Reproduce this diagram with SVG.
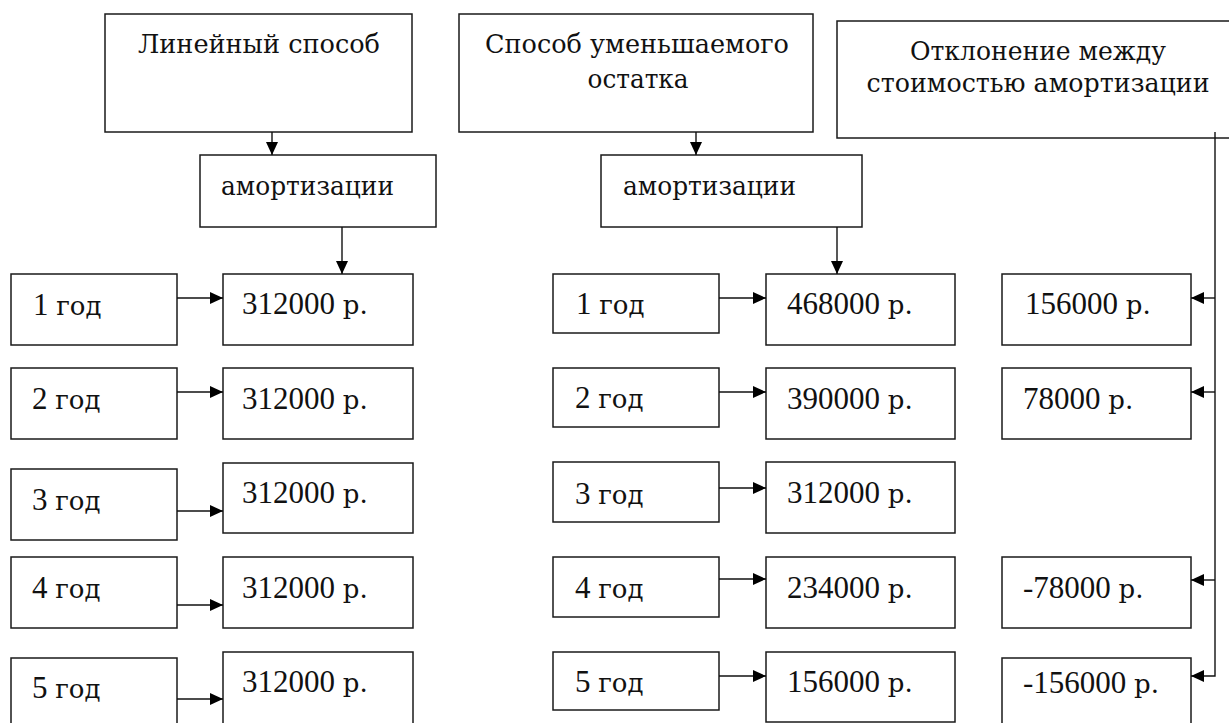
<svg xmlns="http://www.w3.org/2000/svg" width="1229" height="723" viewBox="0 0 1229 723">
<style>
.b{fill:#fff;stroke:#1a1a1a;stroke-width:1.5}
.t{font-family:"Liberation Serif","Times New Roman",serif;font-size:31px;fill:#111}
.h{font-family:"DejaVu Serif",serif;font-size:26px}
.cy{font-family:"DejaVu Serif",serif;font-size:26px}
.m{text-anchor:middle}
.c{fill:none;stroke:#111;stroke-width:1.4}
</style>
<defs>
<marker id="ah" markerUnits="userSpaceOnUse" markerWidth="13" markerHeight="12" refX="13" refY="6" orient="auto">
<path d="M0,0 L13,6 L0,12 z" fill="#000"/>
</marker>
</defs>
<rect width="1229" height="723" fill="#fff"/>
<g id="n-linear"><rect class="b" x="105" y="14" width="307" height="118"/><text class="t h m" x="259" y="53" textLength="242" lengthAdjust="spacingAndGlyphs">Линейный способ</text></g>
<g id="n-declining"><rect class="b" x="459" y="14" width="354" height="118"/><text class="t h m" x="637" y="53" textLength="304" lengthAdjust="spacingAndGlyphs">Способ уменьшаемого</text><text class="t h m" x="638" y="88" textLength="101" lengthAdjust="spacingAndGlyphs">остатка</text></g>
<g id="n-deviation"><rect class="b" x="837" y="21" width="403" height="117"/><text class="t h m" x="1038" y="60" textLength="256" lengthAdjust="spacingAndGlyphs">Отклонение между</text><text class="t h m" x="1038" y="92" textLength="343" lengthAdjust="spacingAndGlyphs">стоимостью амортизации</text></g>
<g id="n-amort1"><rect class="b" x="200" y="155" width="236" height="72"/><text class="t h" x="221" y="195" textLength="173" lengthAdjust="spacingAndGlyphs">амортизации</text></g>
<g id="n-amort2"><rect class="b" x="601" y="155" width="261" height="72"/><text class="t h" x="623" y="195" textLength="173" lengthAdjust="spacingAndGlyphs">амортизации</text></g>
<g id="n-l-y1"><rect class="b" x="11" y="274" width="166" height="71"/><text class="t" x="33" y="315">1 <tspan class="cy">год</tspan></text></g>
<g id="n-l-y2"><rect class="b" x="11" y="368" width="166" height="71"/><text class="t" x="32" y="409">2 <tspan class="cy">год</tspan></text></g>
<g id="n-l-y3"><rect class="b" x="11" y="469" width="166" height="71"/><text class="t" x="32" y="510">3 <tspan class="cy">год</tspan></text></g>
<g id="n-l-y4"><rect class="b" x="11" y="557" width="166" height="71"/><text class="t" x="32" y="598">4 <tspan class="cy">год</tspan></text></g>
<g id="n-l-y5"><rect class="b" x="11" y="658" width="166" height="70"/><text class="t" x="32" y="698">5 <tspan class="cy">год</tspan></text></g>
<g id="n-l-v1"><rect class="b" x="223" y="274" width="190" height="71"/><text class="t" x="242" y="314">312000 <tspan class="cy">р.</tspan></text></g>
<g id="n-l-v2"><rect class="b" x="223" y="368" width="190" height="71"/><text class="t" x="242" y="409">312000 <tspan class="cy">р.</tspan></text></g>
<g id="n-l-v3"><rect class="b" x="223" y="463" width="190" height="70"/><text class="t" x="242" y="503">312000 <tspan class="cy">р.</tspan></text></g>
<g id="n-l-v4"><rect class="b" x="223" y="557" width="190" height="71"/><text class="t" x="242" y="598">312000 <tspan class="cy">р.</tspan></text></g>
<g id="n-l-v5"><rect class="b" x="223" y="652" width="190" height="76"/><text class="t" x="242" y="692">312000 <tspan class="cy">р.</tspan></text></g>
<g id="n-m-y1"><rect class="b" x="553" y="274" width="166" height="59"/><text class="t" x="576" y="314">1 <tspan class="cy">год</tspan></text></g>
<g id="n-m-y2"><rect class="b" x="553" y="368" width="166" height="59"/><text class="t" x="575" y="408">2 <tspan class="cy">год</tspan></text></g>
<g id="n-m-y3"><rect class="b" x="553" y="462" width="166" height="60"/><text class="t" x="575" y="504">3 <tspan class="cy">год</tspan></text></g>
<g id="n-m-y4"><rect class="b" x="553" y="557" width="166" height="60"/><text class="t" x="575" y="598">4 <tspan class="cy">год</tspan></text></g>
<g id="n-m-y5"><rect class="b" x="553" y="652" width="166" height="58"/><text class="t" x="575" y="692">5 <tspan class="cy">год</tspan></text></g>
<g id="n-m-v1"><rect class="b" x="766" y="274" width="189" height="71"/><text class="t" x="787" y="314">468000 <tspan class="cy">р.</tspan></text></g>
<g id="n-m-v2"><rect class="b" x="766" y="368" width="189" height="71"/><text class="t" x="787" y="409">390000 <tspan class="cy">р.</tspan></text></g>
<g id="n-m-v3"><rect class="b" x="766" y="462" width="189" height="71"/><text class="t" x="787" y="503">312000 <tspan class="cy">р.</tspan></text></g>
<g id="n-m-v4"><rect class="b" x="766" y="557" width="189" height="71"/><text class="t" x="787" y="598">234000 <tspan class="cy">р.</tspan></text></g>
<g id="n-m-v5"><rect class="b" x="766" y="652" width="189" height="70"/><text class="t" x="787" y="692">156000 <tspan class="cy">р.</tspan></text></g>
<g id="n-r-v1"><rect class="b" x="1002" y="274" width="189" height="71"/><text class="t" x="1025" y="314">156000 <tspan class="cy">р.</tspan></text></g>
<g id="n-r-v2"><rect class="b" x="1002" y="368" width="189" height="71"/><text class="t" x="1023" y="409">78000 <tspan class="cy">р.</tspan></text></g>
<g id="n-r-v4"><rect class="b" x="1002" y="557" width="189" height="71"/><text class="t" x="1023" y="598">-78000 <tspan class="cy">р.</tspan></text></g>
<g id="n-r-v5"><rect class="b" x="1002" y="658" width="189" height="70"/><text class="t" x="1023" y="693">-156000 <tspan class="cy">р.</tspan></text></g>
<g id="connectors">
<path class="c" d="M272,132 V155" marker-end="url(#ah)"/>
<path class="c" d="M342,227 V274" marker-end="url(#ah)"/>
<path class="c" d="M696,132 V155" marker-end="url(#ah)"/>
<path class="c" d="M837,227 V274" marker-end="url(#ah)"/>
<path class="c" d="M177,298 H223" marker-end="url(#ah)"/>
<path class="c" d="M177,392 H223" marker-end="url(#ah)"/>
<path class="c" d="M177,511 H223" marker-end="url(#ah)"/>
<path class="c" d="M177,605 H223" marker-end="url(#ah)"/>
<path class="c" d="M177,699 H223" marker-end="url(#ah)"/>
<path class="c" d="M719,298 H766" marker-end="url(#ah)"/>
<path class="c" d="M719,392 H766" marker-end="url(#ah)"/>
<path class="c" d="M719,488 H766" marker-end="url(#ah)"/>
<path class="c" d="M719,579 H766" marker-end="url(#ah)"/>
<path class="c" d="M719,676 H766" marker-end="url(#ah)"/>
<path class="c" d="M1215,132 V676 H1191" marker-end="url(#ah)"/>
<path class="c" d="M1215,298 H1191" marker-end="url(#ah)"/>
<path class="c" d="M1215,392 H1191" marker-end="url(#ah)"/>
<path class="c" d="M1215,580 H1191" marker-end="url(#ah)"/>
</g>
</svg>
